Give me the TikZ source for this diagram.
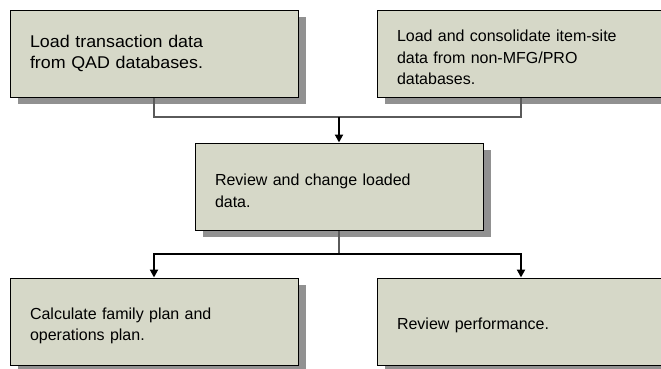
\documentclass[tikz,border=0pt]{standalone}
\usepackage{fontspec}
\setmainfont{Liberation Sans}
\usetikzlibrary{arrows.meta,shadows}

\definecolor{boxfill}{RGB}{214,216,200}
\definecolor{shadowgray}{RGB}{145,145,145}
\definecolor{feedgray}{RGB}{90,90,90}

\tikzset{
  stepbox/.style={draw=black, line width=1pt, fill=boxfill,
    minimum width=288pt, minimum height=87pt, inner xsep=20pt,
    text width=248pt, align=left,
    font=\fontsize{16}{21.5}\selectfont,
    execute at begin node={\rule{0pt}{20pt}},
    drop shadow={shadow xshift=8pt, shadow yshift=-7pt, fill=shadowgray, opacity=1}},
  widebox/.style={stepbox,
    font=\fontsize{17}{21.5}\selectfont\addfontfeature{FakeStretch=1.05},
    execute at begin node={},
    execute at end node={\rule[-11pt]{0pt}{11pt}}},
  feed/.style={draw=feedgray, line width=1.2pt},
  flow/.style={draw=black, line width=2pt, -{Triangle[length=8pt,width=8pt]}}
}

\begin{document}
\begin{tikzpicture}[x=1pt, y=-1pt]

\useasboundingbox (0,0) rectangle (661,368);

% top row
\node[widebox] (load) at (154, 53.5) {Load transaction data\\from QAD databases.};
\node[stepbox] (consol) at (521, 53.5) {Load and consolidate item-site\\data from non-MFG/PRO\\databases.};

% middle
\node[stepbox] (review) at (339, 186.5) {Review and change loaded\\data.};

% bottom row
\node[stepbox] (calc) at (154, 321.5) {Calculate family plan and\\operations plan.};
\node[stepbox] (perf) at (521, 321.5) {Review performance.};

% connectors
\coordinate (topjoin) at (339, 117);
\coordinate (botjoin) at (339, 254);

\draw[feed] (load.south) |- (topjoin) -| (consol.south);
\draw[flow] (topjoin) -- (review.north);

\draw[feed] (review.south) -- (botjoin);
\draw[flow] (botjoin) -| (calc.north);
\draw[flow] (botjoin) -| (perf.north);

\end{tikzpicture}
\end{document}
